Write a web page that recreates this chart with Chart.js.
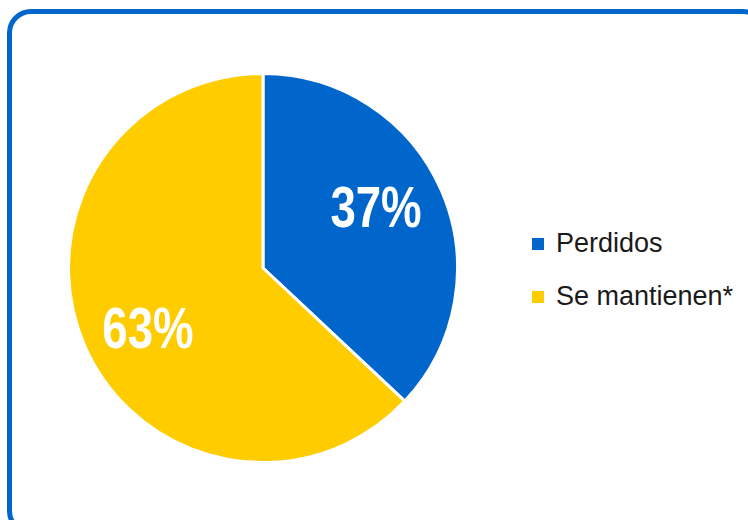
<!DOCTYPE html>
<html>
<head>
<meta charset="utf-8">
<script src="https://cdn.jsdelivr.net/npm/chart.js@4/dist/chart.umd.min.js"></script>
<style>
  html, body { margin: 0; padding: 0; background: #fff; overflow: hidden; }
  body { width: 748px; height: 520px; position: relative; }
  .frame {
    position: absolute; left: 7px; top: 9px; width: 750px; height: 516px;
    border: 5px solid #0066cc; border-radius: 24px;
  }
  .pie { position: absolute; left: 67px; top: 72px; width: 392px; height: 392px; }
  .legend {
    position: absolute; left: 532px; top: 217px; margin: 0; padding: 0; list-style: none;
    font-family: "Liberation Sans", Arial, sans-serif; font-size: 27px; color: #1a1a1a;
  }
  .legend li { height: 53px; display: flex; align-items: center; }
  .legend span.box { width: 12px; height: 12px; margin-right: 12px; display: inline-block; }
</style>
</head>
<body>
<div class="frame"></div>
<div class="pie"><canvas id="share-chart" width="392" height="392"></canvas></div>
<ul class="legend" id="legend"></ul>
<script>
const labels = ["Perdidos", "Se mantienen*"];
const shares = [37, 63];
const colors = ["#0066cc", "#ffcc00"];

// small nudges for the percentage text, in px
const labelNudge = [[-3, -7], [1, 14]];

// percentage text inside each slice, squeezed to look condensed
const sliceLabels = {
    id: 'sliceLabels',
    afterDatasetsDraw(chart) {
        const { ctx } = chart;
        const meta = chart.getDatasetMeta(0);
        ctx.save();
        ctx.fillStyle = '#fff';
        ctx.textAlign = 'center';
        ctx.textBaseline = 'middle';
        ctx.font = 'bold 57px "Liberation Sans", sans-serif';
        meta.data.forEach((arc, i) => {
            const mid = (arc.startAngle + arc.endAngle) / 2;
            const r = arc.outerRadius * 0.65;
            const x = arc.x + Math.cos(mid) * r + labelNudge[i][0];
            const y = arc.y + Math.sin(mid) * r + labelNudge[i][1];
            ctx.save();
            ctx.translate(x, y);
            ctx.scale(0.8, 1);
            ctx.fillText(shares[i] + '%', 0, 0);
            ctx.restore();
        });
        ctx.restore();
    }
};

new Chart(document.getElementById('share-chart'), {
    type: 'pie',
    data: {
        labels: labels,
        datasets: [{
            data: shares,
            backgroundColor: colors,
            borderColor: '#fff',
            borderWidth: 3
        }]
    },
    options: {
        responsive: false,
        animation: false,
        plugins: { legend: { display: false }, tooltip: { enabled: false } }
    },
    plugins: [sliceLabels]
});

const legend = document.getElementById('legend');
labels.forEach((l, i) => {
    const li = document.createElement('li');
    li.innerHTML = '<span class="box" style="background:' + colors[i] + '"></span>' + l;
    legend.appendChild(li);
});
</script>
</body>
</html>
